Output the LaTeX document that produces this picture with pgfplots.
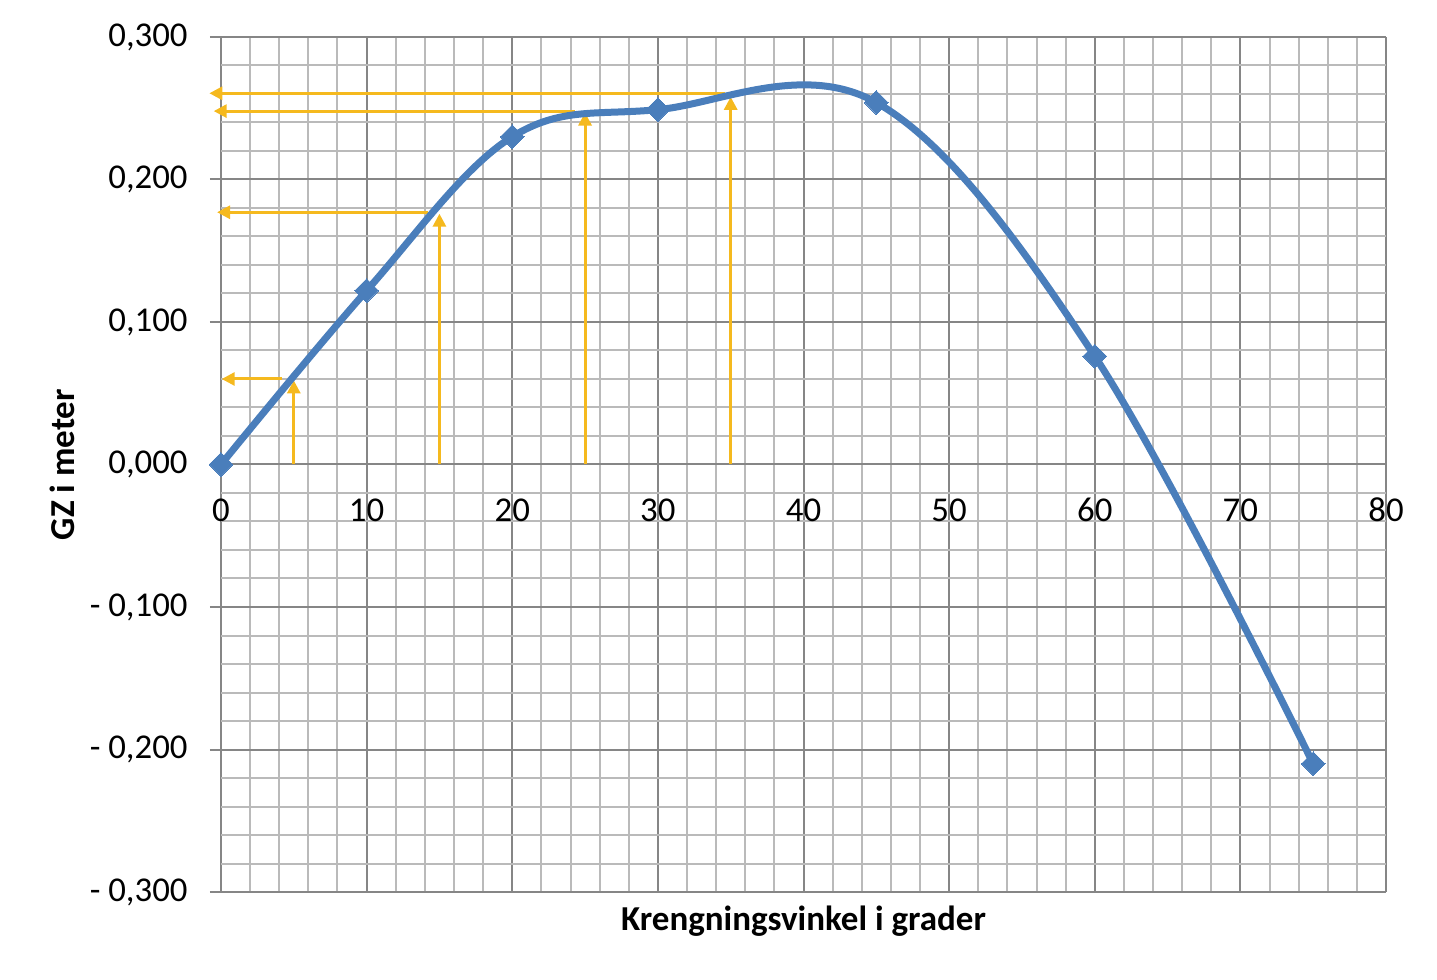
\documentclass[border=0pt]{standalone}
\usepackage{pgfplots}
\pgfplotsset{compat=1.18}
\usetikzlibrary{arrows.meta}
\usepackage{fontspec}
\setmainfont{Carlito}

\definecolor{gzblue}{RGB}{74,126,187}
\definecolor{pil}{RGB}{245,185,30}
\definecolor{majgrid}{RGB}{134,134,134}
\definecolor{mingrid}{RGB}{186,186,186}

\begin{document}
\begin{tikzpicture}
\begin{axis}[
    name=ax,
    width=582.5pt, height=427.5pt, scale only axis,
    xmin=0, xmax=80, ymin=-0.3, ymax=0.3,
    clip=false,
    axis line style={draw=none},
    xtick={0,10,20,30,40,50,60,70,80},
    xticklabels={0,10,20,30,40,50,60,70,80},
    ytick={-0.3,-0.2,-0.1,0,0.1,0.2,0.3},
    yticklabels={{- 0,300},{- 0,200},{- 0,100},{0,000},{0,100},{0,200},{0,300}},
    minor x tick num=4, minor y tick num=4,
    grid=both,
    major grid style={majgrid, line width=1pt},
    minor grid style={mingrid, line width=1pt},
    xtick pos=bottom, ytick pos=left,
    tick align=outside,
    major tick length=5.5pt, minor tick length=0pt,
    xtick style={draw=none},
    ytick style={majgrid, line width=1pt},
    tick label style={font=\fontsize{17.4}{21}\selectfont},
    yticklabel style={inner sep=0pt, anchor=east, xshift=-11pt},
    xticklabel style={inner sep=0pt, anchor=center, yshift=196.5pt},
    xlabel={Krengningsvinkel i grader},
    ylabel={GZ i meter},
    label style={font=\bfseries\fontsize{17.5}{21}\selectfont},
    xlabel style={at={(axis description cs:0.5,0)}, anchor=center, yshift=-14.5pt},
    ylabel style={at={(axis description cs:-0.1365,0.5)}, anchor=center},
]
% avlesningspiler
\addplot[pil, line width=1.5pt, -{Triangle[length=6.5pt,width=6.5pt]}] coordinates {(5,0) (5,0.059)};
\addplot[pil, line width=1.5pt, -{Triangle[length=6.5pt,width=6.5pt]}] coordinates {(4.2,0.060) (0.05,0.060)};
\addplot[pil, line width=1.5pt, -{Triangle[length=6.5pt,width=6.5pt]}] coordinates {(15,0) (15,0.176)};
\addplot[pil, line width=1.5pt, -{Triangle[length=6.5pt,width=6.5pt]}] coordinates {(14.2,0.177) (-0.27,0.177)};
\addplot[pil, line width=1.5pt, -{Triangle[length=6.5pt,width=6.5pt]}] coordinates {(25,0) (25,0.247)};
\addplot[pil, line width=1.5pt, -{Triangle[length=6.5pt,width=6.5pt]}] coordinates {(24.3,0.248) (-0.5,0.248)};
\addplot[pil, line width=1.5pt, -{Triangle[length=6.5pt,width=6.5pt]}] coordinates {(35,0) (35,0.258)};
\addplot[pil, line width=1.5pt, -{Triangle[length=6.5pt,width=6.5pt]}] coordinates {(34.6,0.2605) (-0.8,0.2605)};
% GZ-kurve
\addplot[gzblue, line width=3.5pt, smooth, tension=0.6,
    mark=square*, mark size=4.2pt,
    mark options={solid, rotate=45, fill=gzblue, draw=gzblue, line width=0pt}]
    coordinates {(0,0) (10,0.122) (20,0.230) (30,0.249) (45,0.254) (60,0.076) (75,-0.210)};
\end{axis}
\pgfresetboundingbox
\path ([shift={(-110.5pt,-43.5pt)}]ax.south west) rectangle ([shift={(25.5pt,18.5pt)}]ax.north east);
\end{tikzpicture}
\end{document}
